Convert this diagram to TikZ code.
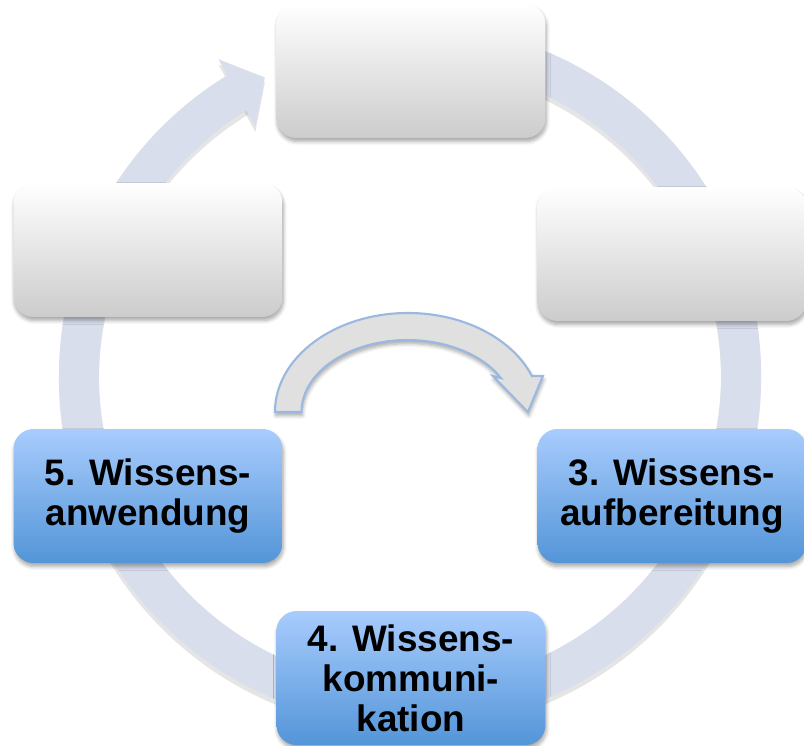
\documentclass[tikz,border=0pt]{standalone}
\usepackage{fontspec}
\setmainfont{Liberation Sans}
\usetikzlibrary{arrows.meta, bending, shadows.blur}
\definecolor{ringblau}{RGB}{216,222,236}
\definecolor{kastengrau}{RGB}{204,204,204}
\definecolor{blauhell}{RGB}{168,204,253}
\definecolor{blaudunkel}{RGB}{83,149,216}
\definecolor{pfeilrand}{RGB}{155,184,222}
\definecolor{pfeilgrau}{RGB}{224,224,224}

\begin{document}
\begin{tikzpicture}[
  x=0.02cm, y=0.02cm,
  schatten/.style={blur shadow={shadow xshift=0.5pt, shadow yshift=-2pt, shadow blur steps=6, shadow opacity=35}},
  phase/.style={rectangle, rounded corners=0.4cm, minimum width=5.38cm, minimum height=2.68cm,
    inner sep=0pt, align=center, font=\fontsize{21}{22.8}\selectfont\bfseries, schatten},
  leer/.style={phase, top color=white, bottom color=kastengrau},
  aktiv/.style={phase, top color=blauhell, bottom color=blaudunkel},
  ringpfeil/.style={line width=0.8cm, draw=ringblau, -{Triangle[length=0.64cm, width=1.5cm]}},
  pfeil/.style={fill=pfeilgrau, draw=pfeilrand, line width=1.2pt, schatten},
  ]
  \useasboundingbox (0,0) rectangle (804,746);

  \coordinate (ringc) at (410,371);
  \coordinate (bogen) at (408,334);

  % Kreislauf
  \draw[ringpfeil, draw=black, opacity=0.1] ([yshift=-3]ringc) ++(80:331) arc[start angle=80, end angle=-244, radius=331];
  \draw[ringpfeil] (ringc) ++(80:331) arc[start angle=80, end angle=-244, radius=331];

  % Phasen
  \node[leer]  (phase1) at (411,675) {};
  \node[leer]  (phase2) at (672,492) {};
  \node[aktiv] (phase3) at (672,250) {3. Wissens-\\aufbereitung};
  \node[aktiv] (phase4) at (411,68)  {4. Wissens-\\kommuni-\\kation};
  \node[aktiv] (phase5) at (148,250) {5. Wissens-\\anwendung};
  \node[leer]  (phase6) at (148,496) {};

  % Bogenpfeil in der Mitte
  \draw[pfeil] (bogen) ++(180:133 and 99)
    arc[start angle=180, end angle=21.3, x radius=133, y radius=99]
    -- ++(11,0) -- ++(-15,-36) -- ++(-35,36) -- ++(8,-2)
    arc[start angle=28.2, end angle=180, x radius=106, y radius=72] -- cycle;
\end{tikzpicture}
\end{document}
